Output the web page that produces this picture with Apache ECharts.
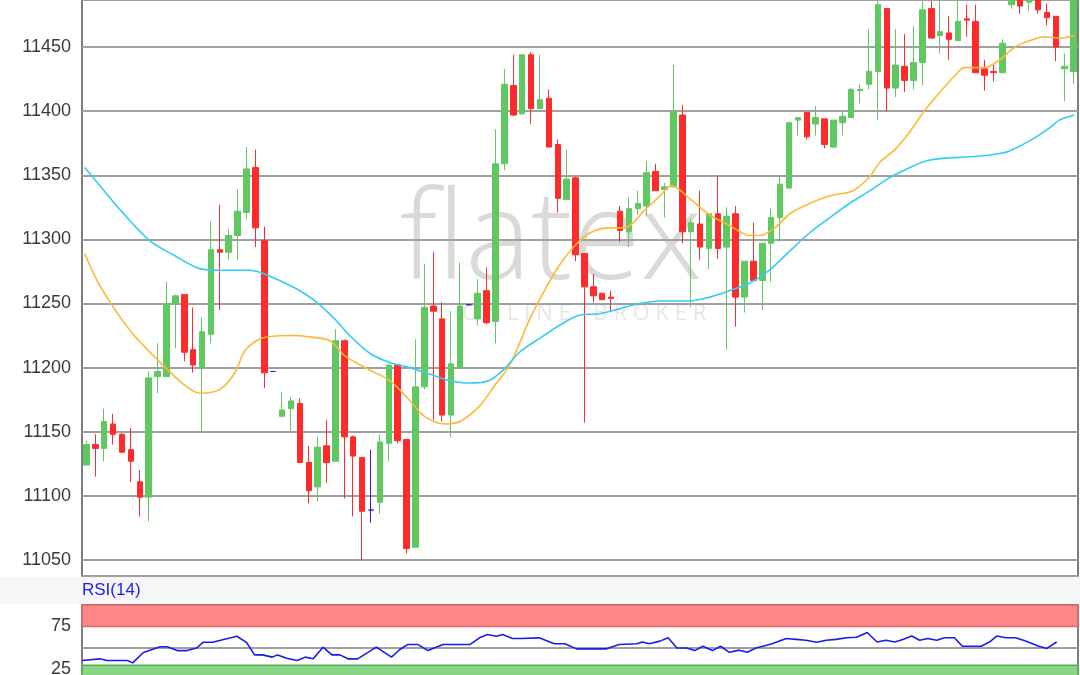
<!DOCTYPE html>
<html><head><meta charset="utf-8">
<script src="https://cdn.jsdelivr.net/npm/echarts@6/dist/echarts.min.js"></script>
<style>html,body{margin:0;padding:0;background:#fff;overflow:hidden}#c{width:1080px;height:691px}</style>
</head><body><div id="c"></div>
<script>
// OHLC: [open, close, low, high]
const opens  = [11124,11140,11137,11156,11148,11136,11111,11099,11193,11193,11250,11257,11214,11200,11226,11292,11290,11303,11321,11356,11299,11197,11162,11168,11172,11126,11107,11139,11127,11221,11146,11130,11089,11095,11141,11202,11144,11060,11185,11248,11238,11163,11200,11249,11238,11260,11236,11359,11420,11398,11444,11402,11410,11374,11331,11348,11289,11263,11258,11255,11322,11306,11324,11326,11353,11339,11341,11397,11306,11312,11293,11320,11294,11320,11255,11283,11268,11297,11317,11340,11393,11399,11390,11394,11372,11391,11395,11416,11421,11431,11480,11418,11435,11424,11438,11480,11459,11461,11455,11472,11470,11433,11431,11430,11483,11495,11485,11495,11477,11474,11433,11431];
const closes = [11140,11137,11158,11148,11134,11127,11099,11192,11197,11250,11256,11212,11202,11228,11292,11290,11303,11322,11355,11309,11196,11197,11167,11174,11126,11104,11138,11126,11221,11146,11131,11088,11089,11142,11202,11143,11059,11185,11247,11244,11163,11203,11248,11249,11258,11235,11359,11421,11397,11444,11402,11409,11372,11332,11347,11288,11263,11256,11253,11254,11307,11324,11328,11352,11338,11341,11400,11306,11313,11294,11320,11293,11318,11255,11283,11268,11297,11317,11343,11391,11395,11380,11395,11374,11393,11396,11417,11417,11431,11483,11418,11436,11424,11438,11479,11457,11462,11456,11470,11471,11430,11428,11430,11453,11490,11482,11488,11479,11473,11450,11435,11490];
const lows   = [11124,11115,11127,11140,11134,11111,11084,11080,11180,11193,11215,11205,11196,11150,11219,11245,11284,11284,11316,11294,11184,11197,11162,11150,11126,11094,11096,11110,11127,11098,11084,11050,11079,11086,11127,11141,11055,11060,11183,11159,11158,11146,11200,11249,11233,11234,11219,11354,11396,11397,11390,11402,11372,11321,11331,11283,11157,11251,11253,11244,11298,11294,11319,11318,11338,11317,11341,11297,11247,11284,11277,11285,11214,11232,11243,11268,11245,11267,11298,11340,11381,11378,11381,11371,11372,11381,11395,11406,11417,11393,11400,11411,11415,11417,11420,11457,11445,11440,11455,11458,11430,11416,11423,11430,11480,11476,11478,11476,11467,11439,11408,11421];
const highs  = [11143,11148,11168,11164,11149,11153,11120,11197,11219,11267,11257,11257,11247,11239,11314,11327,11308,11339,11372,11370,11310,11197,11181,11177,11176,11139,11146,11159,11230,11222,11147,11130,11136,11148,11203,11202,11144,11222,11281,11290,11251,11244,11282,11249,11269,11278,11386,11433,11444,11444,11446,11444,11417,11378,11370,11349,11289,11273,11258,11260,11326,11333,11338,11361,11359,11344,11436,11405,11316,11338,11320,11350,11325,11326,11283,11313,11297,11324,11350,11391,11395,11399,11404,11394,11393,11400,11418,11421,11464,11486,11480,11464,11460,11466,11486,11486,11486,11474,11486,11483,11483,11440,11437,11456,11495,11498,11495,11500,11484,11474,11445,11495];
// moving averages: [candle index position, price]
const maFastX = [-0.2,1.5,4.9,8.3,11.1,12.8,15.0,16.7,17.8,19.7,22.9,25.1,27.4,29.1,31.9,34.1,36.4,38.0,40.3,42.0,44.2,45.9,47.6,49.8,51.5,53.2,54.9,56.6,58.8,60.5,62.8,64.5,65.8,67.8,70.1,72.3,74.6,75.7,77.4,79.1,81.3,83.6,86.2,88.1,89.2,90.9,92.6,94.3,96.0,97.7,98.7,101.0,102.7,104.4,106.1,107.7,109.4,111.1];
const maFastY = [11289,11264,11229,11204,11186,11180,11183,11196,11213,11223,11225,11224,11221,11209,11198,11190,11174,11162,11156,11158,11170,11186,11202,11237,11260,11280,11295,11305,11309,11309,11323,11334,11342,11332,11319,11311,11303,11303,11309,11320,11328,11334,11338,11349,11360,11370,11384,11401,11415,11428,11434,11434,11440,11450,11455,11458,11457,11459];
const maSlowX = [-0.2,1.5,3.8,7.1,10.0,12.8,15.0,18.4,19.7,22.3,24.0,25.7,27.9,29.6,31.9,34.1,36.4,38.6,40.8,43.1,45.3,47.0,48.7,51.0,53.2,55.5,57.7,60.0,62.2,64.5,67.8,70.1,72.3,74.6,76.8,79.1,81.3,83.6,85.8,88.1,90.3,92.6,94.3,96.0,98.2,100.5,102.7,103.8,106.1,108.3,109.4,111.1];
const maSlowY = [11356,11342,11323,11299,11287,11277,11276,11276,11274,11266,11260,11252,11238,11225,11211,11204,11200,11195,11190,11188,11190,11199,11212,11223,11233,11241,11242,11246,11250,11252,11252,11255,11260,11266,11276,11291,11305,11317,11328,11338,11348,11356,11361,11363,11364,11365,11367,11369,11377,11387,11393,11397];
const rsiX = [-0.5,1.5,2.3,4.6,5.2,6.4,8.3,9.1,10.2,11.3,12.4,13.1,14.2,16.9,18.0,18.9,19.8,20.9,21.5,22.5,23.7,24.6,25.5,26.6,27.6,28.5,29.4,30.5,32.6,34.3,35.2,36.1,37.3,38.4,40.1,43.1,44.2,45.1,46.1,46.8,47.9,48.9,50.9,52.6,53.8,55.1,58.5,59.9,61.9,62.5,63.3,64.5,65.4,66.4,67.5,68.4,69.3,70.4,71.3,72.3,73.4,74.3,75.3,77.1,78.7,79.8,80.9,82.1,83.2,84.3,85.5,86.6,87.8,88.9,89.9,90.9,91.8,92.8,93.7,94.6,95.6,96.5,97.6,98.5,100.6,101.5,102.4,103.4,104.5,105.6,107.1,108.0,109.1];
const rsiY = [35.4,37.4,35.4,35.4,32.7,44.8,51.5,51.5,47,47,50,56.6,56.6,63.6,56.6,42,42,39.4,42,38,35.4,39.4,37.4,51,42,42,37.4,37.4,51,39.4,48,54,54,47,54,54,61.8,65.6,63.6,65.6,61,61,61.8,55,55,49,49,54,55,57,55,58,62,50,50,47,52,47,52,45,47.5,45,50,55,61,60,59,56.6,59,60,62,62.5,68,57,59,57,60,64,59,61,59,62,62,52,52,56.6,64,62,62,58,52,49.5,57];
const rsiLabelTicks = [25, 75];

const cats = opens.map((_, i) => String(i));
const candleData = opens.map((o, i) => {
  const item = {value: [o, closes[i], lows[i], highs[i]]};
  if (o === closes[i]) item.itemStyle = {color: '#4b12c8', color0: '#4b12c8', borderColor: '#4b12c8', borderColor0: '#4b12c8'};
  return item;
});
const pair = (xs, ys) => xs.map((x, i) => [x, ys[i]]);

const chart = echarts.init(document.getElementById('c'), null, {renderer: 'canvas'});
const labelStyle = {color: '#3a3a3a', fontSize: 18, fontFamily: 'Liberation Sans, Arial, sans-serif', margin: 11};
chart.setOption({
  animation: false,
  backgroundColor: '#ffffff',
  graphic: [
    {type: 'rect', shape: {x: 0, y: 577, width: 1080, height: 27}, style: {fill: '#f6f6f6'}, z: -10},
    {type: 'text', left: 400, top: 182, z: -1, style: {text: 'flatex', fill: '#d9d9d9', font: '300 124px "Open Sans", sans-serif'}},
    {type: 'text', left: 462, top: 303, z: -1, style: {text: 'O N L I N E    B R O K E R', fill: '#e6e6e6', font: '22px "Open Sans", sans-serif'}},
    {type: 'text', left: 82, top: 582, style: {text: 'RSI(14)', fill: '#1a1aff', font: '17px "Liberation Sans", Arial, sans-serif'}}
  ],
  grid: [
    {left: 82, right: 2, top: -1, height: 577, show: true, borderColor: '#555', borderWidth: 1.5, backgroundColor: 'transparent'},
    {left: 82, right: 2, top: 605, height: 86, show: true, borderColor: '#555', borderWidth: 1.5, backgroundColor: '#fff'}
  ],
  xAxis: [
    {type: 'category', data: cats, gridIndex: 0, boundaryGap: true, show: false},
    {type: 'value', gridIndex: 0, min: -0.5, max: 111.5, show: false},
    {type: 'value', gridIndex: 1, min: -0.5, max: 111.5, show: false}
  ],
  yAxis: [
    {type: 'value', gridIndex: 0, min: 11037.5, max: 11486.7, splitNumber: 9, position: 'left',
     axisLine: {show: false}, axisTick: {show: false},
     axisLabel: Object.assign({showMinLabel: false, showMaxLabel: false,
       formatter: v => (v % 50 === 0 ? String(v) : '')}, labelStyle),
     splitLine: {lineStyle: {color: '#a0a0a0', width: 2}}},
    {type: 'value', gridIndex: 1, min: 0, max: 100, interval: 25,
     axisLine: {show: false}, axisTick: {show: false},
     axisLabel: Object.assign({formatter: v => (rsiLabelTicks.includes(v) ? String(v) : '')}, labelStyle),
     splitLine: {show: false}}
  ],
  series: [
    {type: 'candlestick', xAxisIndex: 0, yAxisIndex: 0, data: candleData, barWidth: 6, z: 3,
     itemStyle: {color: '#60c860', color0: '#ff2a2a', borderColor: '#60c860', borderColor0: '#ff2a2a', borderWidth: 1}},
    {type: 'line', xAxisIndex: 1, yAxisIndex: 0, data: pair(maFastX, maFastY), showSymbol: false, smooth: 0.3,
     lineStyle: {color: '#ffb833', width: 1.6}, z: 4},
    {type: 'line', xAxisIndex: 1, yAxisIndex: 0, data: pair(maSlowX, maSlowY), showSymbol: false, smooth: 0.3,
     lineStyle: {color: '#33ccf5', width: 1.6}, z: 4},
    {type: 'line', xAxisIndex: 2, yAxisIndex: 1, data: pair(rsiX, rsiY), showSymbol: false,
     lineStyle: {color: '#1a1aee', width: 1.6}, z: 5,
     markArea: {silent: true, data: [
       [{yAxis: 75, itemStyle: {color: '#ff8686', borderColor: '#d86a6a', borderWidth: 1.5}}, {yAxis: 100}],
       [{yAxis: 0, itemStyle: {color: '#86d686', borderColor: '#5aaa5a', borderWidth: 1.5}}, {yAxis: 30}]
     ]},
     markLine: {silent: true, symbol: 'none', label: {show: false},
       lineStyle: {color: '#a0a0a0', width: 2, type: 'solid'}, data: [{yAxis: 50}]}}
  ]
});
</script></body></html>
